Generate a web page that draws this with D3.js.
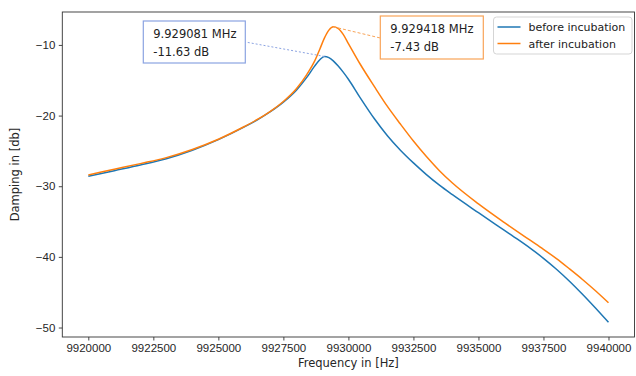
<!DOCTYPE html>
<html>
<head>
<meta charset="utf-8">
<script src="https://cdn.jsdelivr.net/npm/d3@7"></script>
<style>
  body { margin: 0; background: #fff; }
  svg { font-family: "DejaVu Sans", sans-serif; }
</style>
</head>
<body>
<svg id="drawing_region"></svg>
<script>
// frequency in Hz, shared by both series
const freqs = [9920000, 9921000, 9922000, 9923000, 9924000, 9925000, 9926000, 9926500, 9927000, 9927500,
  9928000, 9928400, 9928700, 9928900, 9929081, 9929250, 9929418, 9929600, 9929800, 9930000,
  9930450, 9931000, 9931500, 9932000, 9932500, 9933000, 9933500, 9934000, 9935000, 9936000,
  9936500, 9937000, 9937500, 9938000, 9938500, 9939000, 9939500, 9940000];
const before = [-28.6, -27.8, -27.0, -26.1, -24.9, -23.4, -21.6, -20.6, -19.45, -18.1,
  -16.4, -14.6, -13.0, -12.1, -11.63, -11.8, -12.25, -12.95, -13.85, -14.85,
  -17.45, -20.45, -22.85, -24.9, -26.7, -28.35, -29.85, -31.2, -33.75, -36.25,
  -37.5, -38.8, -40.2, -41.75, -43.45, -45.3, -47.25, -49.25];
const after = [-28.4, -27.6, -26.8, -25.95, -24.8, -23.35, -21.55, -20.55, -19.4, -18.0,
  -16.2, -14.2, -12.3, -10.6, -9.0, -7.9, -7.43, -7.65, -8.5, -9.8,
  -12.7, -15.9, -18.7, -21.2, -23.6, -25.8, -27.8, -29.55, -32.5, -35.15,
  -36.43, -37.68, -38.93, -40.25, -41.7, -43.2, -44.8, -46.5];
const seriesNames = ['before incubation', 'after incubation'];
const xTicks = [9920000, 9922500, 9925000, 9927500, 9930000, 9932500, 9935000, 9937500, 9940000];
const yTicks = [-10, -20, -30, -40, -50];
const peaks = [
  { f: 9929081, v: -11.63, label: ['9.929081 MHz', '-11.63 dB'] },
  { f: 9929418, v: -7.43, label: ['9.929418 MHz', '-7.43 dB'] }
];

const colors = ['#1f77b4', '#ff7f0e'];
const boxColors = ['#8ba3e2', '#f9a458'];

const width = 636, height = 376;
const margin = { top: 12, right: 1.5, bottom: 39, left: 62.3 };
const innerW = width - margin.left - margin.right;
const innerH = height - margin.top - margin.bottom;

const svg = d3.select('#drawing_region')
  .attr('width', width)
  .attr('height', height);

const chart = svg.append('g')
  .attr('transform', `translate(${margin.left}, ${margin.top})`);

// matplotlib style 5% padding
const xExt = d3.extent(freqs);
const xPad = (xExt[1] - xExt[0]) * 0.05;
const yExt = d3.extent(before.concat(after));
const yPad = (yExt[1] - yExt[0]) * 0.05;

const xscale = d3.scaleLinear()
  .domain([xExt[0] - xPad, xExt[1] + xPad])
  .range([0, innerW]);
const yscale = d3.scaleLinear()
  .domain([yExt[0] - yPad, yExt[1] + yPad])
  .range([innerH, 0]);

const xaxis = d3.axisBottom(xscale).tickValues(xTicks).tickFormat(d3.format('d')).tickSize(3.5).tickPadding(3.5).tickSizeOuter(0);
const yaxis = d3.axisLeft(yscale).tickValues(yTicks).tickFormat(d3.format('d')).tickSize(3.5).tickPadding(3.5).tickSizeOuter(0);

const xg = chart.append('g')
  .attr('transform', `translate(0, ${innerH})`)
  .call(xaxis);
const yg = chart.append('g').call(yaxis);

[xg, yg].forEach(g => {
  g.select('.domain').remove();
  g.selectAll('.tick line').attr('stroke', '#333').attr('stroke-width', 0.9);
  g.selectAll('.tick text').attr('fill', '#262626').style('font-size', '11.5px');
});

// lines
const line = vals => d3.line()
  .x((d, i) => xscale(freqs[i]))
  .y(d => yscale(d))
  .curve(d3.curveMonotoneX)(vals);

[before, after].forEach((vals, i) => {
  chart.append('path')
    .attr('d', line(vals))
    .attr('fill', 'none')
    .attr('stroke', colors[i])
    .attr('stroke-width', 1.5);
});

// frame
chart.append('rect')
  .attr('width', innerW)
  .attr('height', innerH)
  .attr('fill', 'none')
  .attr('stroke', '#333')
  .attr('stroke-width', 0.9);

// annotations (box positions in pixels)
const boxes = [
  { x: 81, y: 9, w: 102, h: 42, anchor: [102 + 81, 30], dash: '2,2' },
  { x: 318, y: 4, w: 103, h: 43, anchor: [318, 26], dash: '3,2' }
];
peaks.forEach((p, i) => {
  const b = boxes[i];
  chart.append('line')
    .attr('x1', xscale(p.f)).attr('y1', yscale(p.v))
    .attr('x2', b.anchor[0]).attr('y2', b.anchor[1])
    .attr('stroke', boxColors[i])
    .attr('stroke-width', 1)
    .attr('stroke-dasharray', b.dash);
  chart.append('rect')
    .attr('x', b.x).attr('y', b.y)
    .attr('width', b.w).attr('height', b.h)
    .attr('fill', '#fff')
    .attr('stroke', boxColors[i])
    .attr('stroke-width', 1.2);
  p.label.forEach((t, j) => {
    chart.append('text')
      .attr('x', b.x + 10)
      .attr('y', b.y + 17 + j * 17.5)
      .attr('fill', '#222')
      .style('font-size', '11.5px')
      .text(t);
  });
});

// legend
const legend = chart.append('g')
  .attr('transform', `translate(${innerW - 141}, 5)`);
legend.append('rect')
  .attr('width', 138.5).attr('height', 37)
  .attr('rx', 3)
  .attr('fill', '#fff')
  .attr('stroke', '#d5d5d5');
seriesNames.forEach((name, i) => {
  legend.append('line')
    .attr('x1', 4).attr('x2', 27)
    .attr('y1', 10 + i * 16.5).attr('y2', 10 + i * 16.5)
    .attr('stroke', colors[i])
    .attr('stroke-width', 1.5);
  legend.append('text')
    .attr('x', 35).attr('y', 14 + i * 16.5)
    .attr('fill', '#222')
    .style('font-size', '11px')
    .text(name);
});

// axis labels
svg.append('text')
  .attr('x', margin.left + innerW / 2)
  .attr('y', 367)
  .attr('text-anchor', 'middle')
  .attr('fill', '#262626')
  .style('font-size', '11.5px')
  .text('Frequency in [Hz]');
svg.append('text')
  .attr('transform', `translate(19, ${margin.top + innerH / 2}) rotate(-90)`)
  .attr('text-anchor', 'middle')
  .attr('fill', '#262626')
  .style('font-size', '11.5px')
  .text('Damping in [db]');
</script>
</body>
</html>
